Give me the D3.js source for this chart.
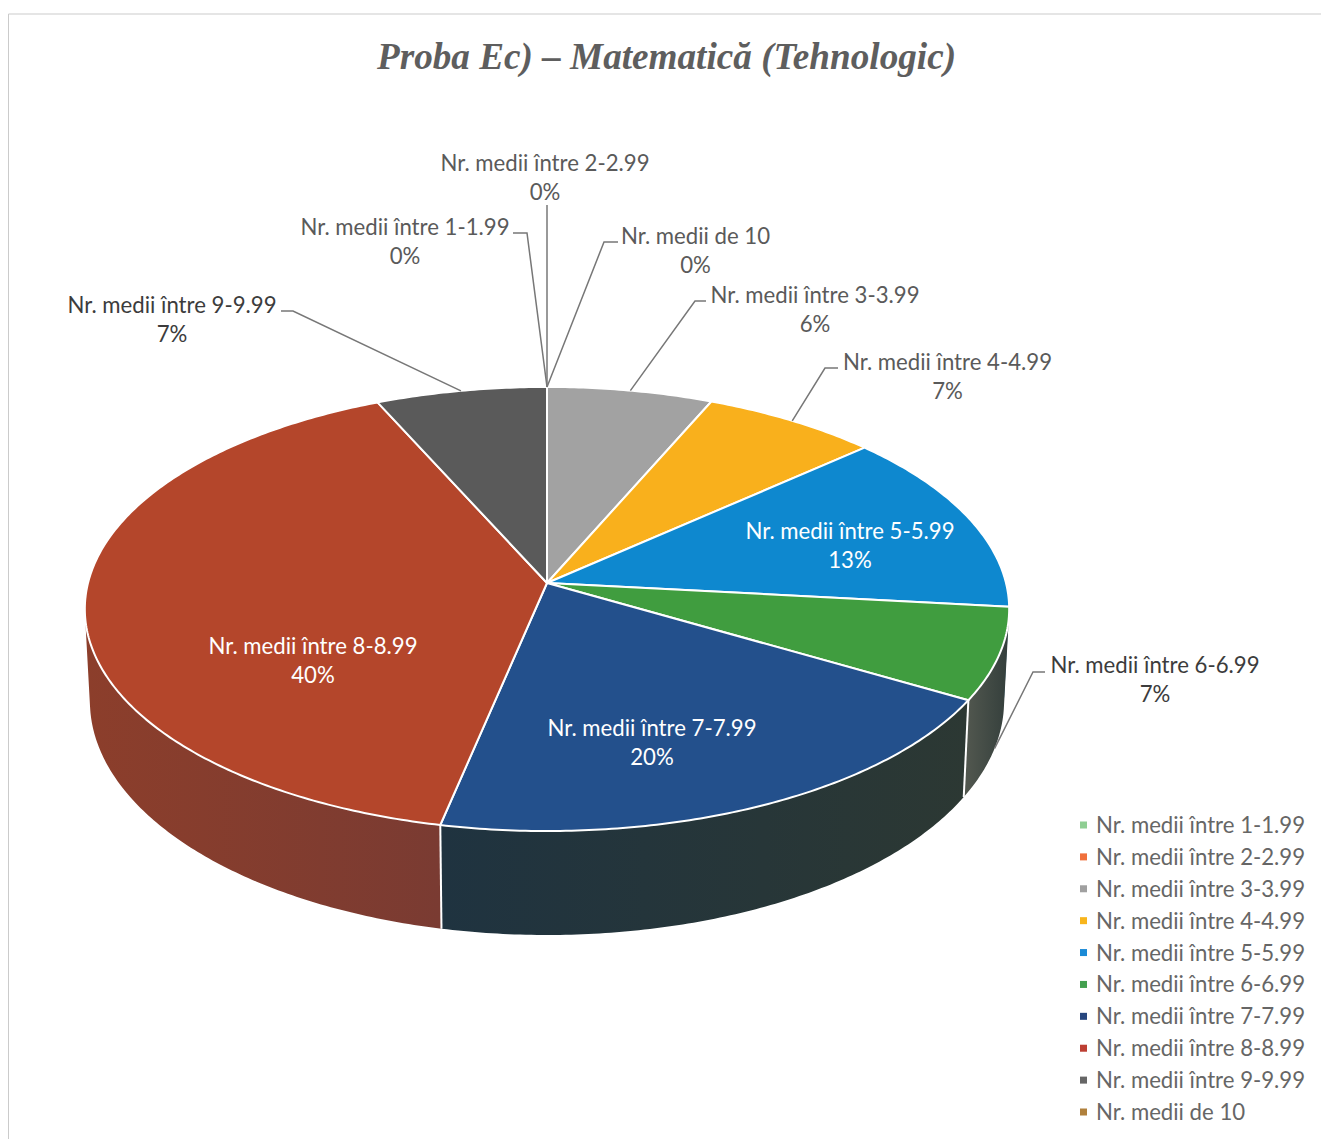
<!DOCTYPE html>
<html>
<head>
<meta charset="utf-8">
<script src="https://cdn.jsdelivr.net/npm/d3@7"></script>
<style>
  html, body { margin: 0; padding: 0; background: #fff; }
  svg { display: block; }
  text { font-family: Lato, "Noto Sans", sans-serif; }
</style>
</head>
<body>
<svg id="chart" width="1321" height="1139"></svg>
<script>
const title = "Proba Ec) – Matematică (Tehnologic)";
const categories = [
  "Nr. medii între 1-1.99", "Nr. medii între 2-2.99", "Nr. medii între 3-3.99",
  "Nr. medii între 4-4.99", "Nr. medii între 5-5.99", "Nr. medii între 6-6.99",
  "Nr. medii între 7-7.99", "Nr. medii între 8-8.99", "Nr. medii între 9-9.99",
  "Nr. medii de 10"
];
const values = [0, 0, 6.49, 6.91, 13.3, 6.7, 19.9, 40, 6.7, 0];

const topColors  = ["#8fce93", "#f0703c", "#a2a2a2", "#f9b01c", "#0e88cf", "#409d3f", "#23508c", "#b4462b", "#5a5a5a", "#b0803c"];
const wallStart  = ["#5a7a5c", "#8a4428", "#666666", "#8a6a18", "#0c5a88", "#333e3b", "#2c3833", "#7a3b32", "#3a3a3a", "#6a5028"];
const wallEnd    = ["#5a7a5c", "#8a4428", "#666666", "#8a6a18", "#0c5a88", "#50564e", "#1f3340", "#8c3e2b", "#3a3a3a", "#6a5028"];
const legendColors = ["#8fce93", "#f0703c", "#a0a0a0", "#f8b51c", "#1a8ad6", "#43a04f", "#27467e", "#bd3f33", "#666666", "#b0803c"];

// label layout: centre x, first baseline, elbow of the leader (if any)
const labelLayout = [
  { x: 405,    y: 235, color: "#5a5a5a", leader: [[513, 233], [527, 233]] },
  { x: 545,    y: 171, color: "#5a5a5a", leader: [[547, 205]] },
  { x: 815,    y: 303, color: "#5a5a5a", leader: [[706, 301], [695, 301]] },
  { x: 947.5,  y: 370, color: "#5a5a5a", leader: [[838, 368], [825, 368]] },
  { x: 850,    y: 539, color: "#ffffff" },
  { x: 1155,   y: 673, color: "#3c3c3c", leader: [[1045, 672], [1033, 672]], onWall: true },
  { x: 652,    y: 736, color: "#ffffff" },
  { x: 313,    y: 654, color: "#ffffff" },
  { x: 172,    y: 313, color: "#3c3c3c", leader: [[281, 311], [293, 311]] },
  { x: 695.5,  y: 244, color: "#5a5a5a", leader: [[618, 242], [604, 242]] }
];

const svg = d3.select("#chart");
const defs = svg.append("defs");

// tilted disc with a little perspective
const cx = 547, cy = 583, rx = 459, ry = 219, persp = 0.117;
const rim = a => {
  const u = Math.sin(a), v = -Math.cos(a), w = 1 - persp * v;
  return [cx + rx * u / w, cy + ry * v / w];
};
const rimBottom = a => {
  const [x, y] = rim(a);
  return [cx + (x - cx) * 0.989, y * 1.054 + 59.1];
};
const arcAngles = (a0, a1) => {
  const n = Math.max(2, Math.ceil((a1 - a0) * 90));
  return d3.range(n + 1).map(i => a0 + (a1 - a0) * i / n);
};
const line = d3.line();

const pie = d3.pie().sort(null).value(d => d.value).startAngle(0).endAngle(2 * Math.PI);
const data = categories.map((name, i) => ({ name, value: values[i], i }));
const slices = pie(data);
const total = d3.sum(values);
const pct = d3.format(".0%");
const visible = slices.filter(d => d.data.value > 0);

// frame left over from the scan
svg.append("path")
  .attr("d", "M8.5,1139V14H1321")
  .attr("fill", "none").attr("stroke", "#cbcbcb").attr("stroke-width", 1);

svg.append("text")
  .attr("x", 666.5).attr("y", 69)
  .attr("text-anchor", "middle")
  .style("font-family", '"Liberation Serif", serif')
  .style("font-weight", "bold").style("font-style", "italic")
  .style("font-size", "37.2px")
  .attr("fill", "#5e5e5e")
  .text(title);

// side wall: one path per slice, swept so the silhouette stays filled
const wallPath = d => d3.pairs(arcAngles(d.startAngle, d.endAngle)).map(([a0, a1]) => {
  const quad = [rim(a0), rim(a1), rimBottom(a1), rimBottom(a0)];
  if (d3.polygonArea(quad) < 0) quad.reverse();
  return line(quad) + "Z";
}).join("");

visible.forEach(d => {
  const xs = arcAngles(d.startAngle, d.endAngle).map(a => rim(a)[0]);
  const x0 = xs[0];
  const far = d3.greatest(xs, x => Math.abs(x - x0));
  const grad = defs.append("linearGradient")
    .attr("id", `wall-${d.data.i}`)
    .attr("gradientUnits", "userSpaceOnUse")
    .attr("x1", x0).attr("x2", far).attr("y1", 0).attr("y2", 0);
  grad.append("stop").attr("offset", 0).attr("stop-color", wallStart[d.data.i]);
  grad.append("stop").attr("offset", 1).attr("stop-color", wallEnd[d.data.i]);
});

svg.append("g").selectAll("path").data(visible).join("path")
  .attr("d", wallPath)
  .attr("fill", d => `url(#wall-${d.data.i})`);

// wall seams, only the ones that face the viewer
svg.append("g").selectAll("line").data(visible.filter(d => -Math.cos(d.endAngle) > 0.3)).join("line")
  .attr("x1", d => rim(d.endAngle)[0]).attr("y1", d => rim(d.endAngle)[1])
  .attr("x2", d => rimBottom(d.endAngle)[0]).attr("y2", d => rimBottom(d.endAngle)[1])
  .attr("stroke", "#fff").attr("stroke-width", 2);

// top face
svg.append("g").selectAll("path").data(visible).join("path")
  .attr("d", d => line([[cx, cy]].concat(arcAngles(d.startAngle, d.endAngle).map(rim))) + "Z")
  .attr("fill", d => topColors[d.data.i])
  .attr("stroke", "#fff").attr("stroke-width", 2).attr("stroke-linejoin", "round");

// leaders
svg.append("g").selectAll("path").data(slices.filter(d => labelLayout[d.data.i].leader)).join("path")
  .attr("d", d => {
    const lay = labelLayout[d.data.i], mid = (d.startAngle + d.endAngle) / 2;
    return line(lay.leader.concat([(lay.onWall ? rimBottom : rim)(mid)]));
  })
  .attr("fill", "none").attr("stroke", "#777").attr("stroke-width", 1.5);

// data labels
const labels = svg.append("g").selectAll("text").data(slices).join("text")
  .attr("text-anchor", "middle")
  .style("font-size", "22.2px")
  .attr("fill", d => labelLayout[d.data.i].color);
labels.append("tspan")
  .attr("x", d => labelLayout[d.data.i].x).attr("y", d => labelLayout[d.data.i].y)
  .text(d => d.data.name);
labels.append("tspan")
  .attr("x", d => labelLayout[d.data.i].x).attr("y", d => labelLayout[d.data.i].y + 29)
  .text(d => pct(d.data.value / total));

// legend
const legendY = d3.scalePoint().domain(categories).range([825, 1112]);
const legend = svg.append("g").selectAll("g").data(categories).join("g")
  .attr("transform", d => `translate(1080,${legendY(d)})`);
legend.append("rect")
  .attr("x", 0).attr("y", -3.5).attr("width", 7).attr("height", 7)
  .attr("fill", (d, i) => legendColors[i]);
legend.append("text")
  .attr("x", 16).attr("y", 8)
  .style("font-size", "22.2px")
  .attr("fill", "#666")
  .text(d => d);
</script>
</body>
</html>
